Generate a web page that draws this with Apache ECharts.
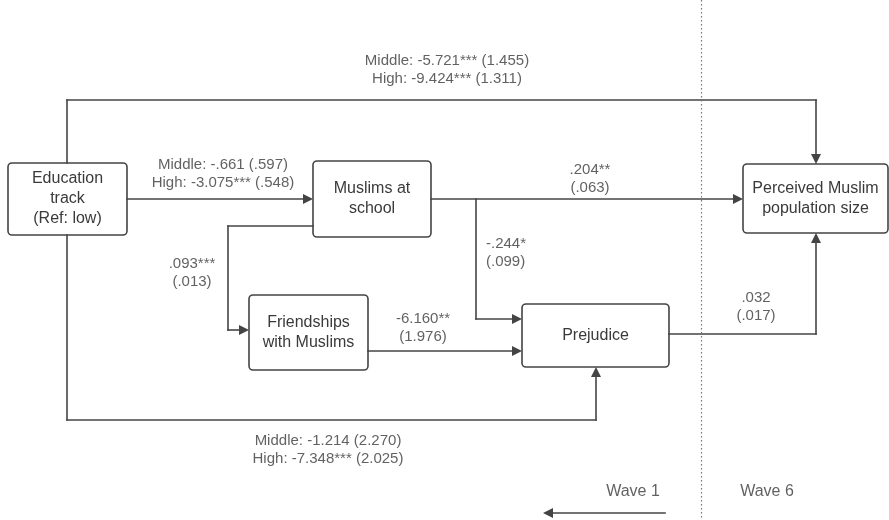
<!DOCTYPE html>
<html>
<head>
<meta charset="utf-8">
<script src="https://cdn.jsdelivr.net/npm/echarts@6/dist/echarts.min.js"></script>
<style>html,body{margin:0;padding:0;background:#fff}#c{width:889px;height:520px}</style>
</head>
<body>
<div id="c"></div>
<script>
// ---- Diagram content ----
const nodeLabels = ['Education\ntrack\n(Ref: low)', 'Muslims at\nschool', 'Friendships\nwith Muslims', 'Prejudice', 'Perceived Muslim\npopulation size'];
// box extents [x0, y0, x1, y1] in diagram units
const nodeBoxes = [[8,163,127,235],[313,161,431,237],[249,295,368,370],[522,304,669,367],[743,164,888,233]];

const pathLabels = [
  'Middle: -5.721*** (1.455)\nHigh: -9.424*** (1.311)',
  'Middle: -.661 (.597)\nHigh: -3.075*** (.548)',
  '.204**\n(.063)',
  '-.244*\n(.099)',
  '.093***\n(.013)',
  '-6.160**\n(1.976)',
  '.032\n(.017)',
  'Middle: -1.214 (2.270)\nHigh: -7.348*** (2.025)'
];
const pathLabelPos = [[447,70],[223,174],[590,179],[486,253],[192,273],[423,328],[756,307],[328,450]];
const pathLabelAlign = ['center','center','center','left','center','center','center','center'];

// edges as polylines (diagram units); the last point is where the arrow tip touches
const edges = [
  [[67,163],[67,100],[816,100],[816,164]],
  [[127,199],[313,199]],
  [[431,199],[743,199]],
  [[476,199],[476,319],[522,319]],
  [[313,226],[228,226],[228,330],[249,330]],
  [[368,351],[522,351]],
  [[669,334],[816,334],[816,233]],
  [[67,235],[67,420],[596,420],[596,367]]
];

const waveLabels = ['Wave 1', 'Wave 6'];
const waveLabelPos = [[633,492],[767,492]];
const divider = [[701,0],[701,520]];
const waveArrow = [[665,513],[543,513]];

const HEAD_LEN = 10;
// pull the final point back so the triangle's tip lands on the target point
function pullBack(a, b) {
  const dx = b[0]-a[0], dy = b[1]-a[1];
  const L = Math.sqrt(dx*dx+dy*dy);
  const t = HEAD_LEN/2 / L;
  return [b[0]-dx*t, b[1]-dy*t];
}
const bodySegs = [], headSegs = [];
edges.concat([waveArrow]).forEach(e => {
  for (let k = 0; k < e.length - 2; k++) bodySegs.push({coords: [e[k], e[k+1]]});
  const a = e[e.length-2], b = e[e.length-1];
  headSegs.push({coords: [a, pullBack(a, b)]});
});

const chart = echarts.init(document.getElementById('c'), null, {renderer:'canvas'});
const FONT = '"Liberation Sans", Arial, sans-serif';
const LINE = '#444';
const TXT = '#3a3a3a';

const option = {
  backgroundColor: '#fff',
  animation: false,
  grid: {left:0, right:0, top:0, bottom:0},
  xAxis: {type:'value', min:0, max:889, show:false},
  yAxis: {type:'value', min:0, max:520, inverse:true, show:false},
  series: [
    {
      type: 'custom', coordinateSystem: 'cartesian2d', z: 1,
      data: nodeBoxes.map((b, i) => [b[0], b[1], b[2], b[3], i]),
      renderItem: function (params, api) {
        const p0 = api.coord([api.value(0), api.value(1)]);
        const p1 = api.coord([api.value(2), api.value(3)]);
        const i = api.value(4);
        return {
          type: 'rect',
          shape: {x: p0[0], y: p0[1], width: p1[0]-p0[0], height: p1[1]-p0[1], r: 4},
          style: {fill: '#fff', stroke: LINE, lineWidth: 1.6},
          textContent: {
            style: {text: nodeLabels[i], fill: TXT, fontSize: 16, fontFamily: FONT,
                    lineHeight: 20, align: 'center', verticalAlign: 'middle'}
          },
          textConfig: {position: 'inside'}
        };
      }
    },
    {
      type: 'lines', coordinateSystem: 'cartesian2d',
      symbol: ['none','none'],
      lineStyle: {color: LINE, width: 1.6, opacity: 1, cap: 'square'},
      z: 2,
      data: bodySegs
    },
    {
      type: 'lines', coordinateSystem: 'cartesian2d',
      symbol: ['none','triangle'], symbolSize: [9, HEAD_LEN],
      itemStyle: {color: LINE},
      lineStyle: {color: LINE, width: 1.6, opacity: 1, cap: 'square'},
      z: 2,
      data: headSegs
    },
    {
      type: 'lines', coordinateSystem: 'cartesian2d',
      symbol: ['none','none'],
      lineStyle: {color: '#777', width: 1.2, type: [1.5,2.5], opacity: 1},
      z: 3,
      data: [{coords: divider}]
    },
    {
      type: 'scatter', symbolSize: 0, z: 6,
      data: pathLabelPos.map((p, i) => ({
        value: p,
        label: {show: true, position: 'inside', formatter: pathLabels[i], align: pathLabelAlign[i],
                color: TXT, fontSize: 15, fontFamily: FONT, lineHeight: 18.5}
      }))
    },
    {
      type: 'scatter', symbolSize: 0, z: 6,
      data: waveLabelPos.map((p, i) => ({
        value: p,
        label: {show: true, position: 'inside', formatter: waveLabels[i], align: 'center',
                color: TXT, fontSize: 16, fontFamily: FONT}
      }))
    }
  ]
};
chart.setOption(option);
</script>
</body>
</html>
